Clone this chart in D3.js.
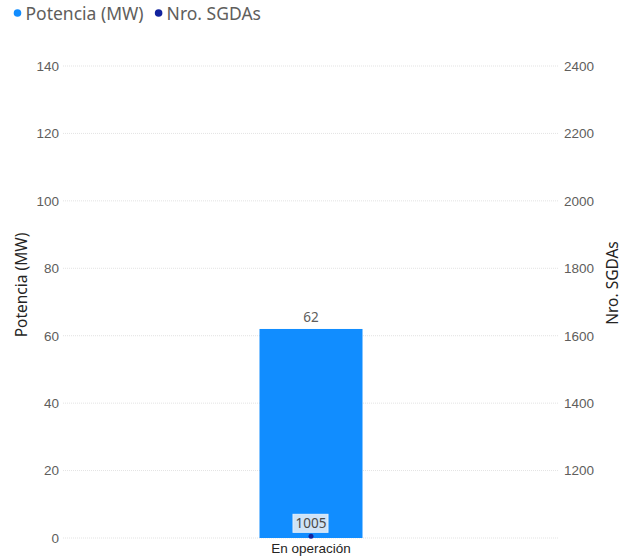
<!DOCTYPE html>
<html>
<head>
<meta charset="utf-8">
<script src="https://cdn.jsdelivr.net/npm/d3@7"></script>
<style>
  body { margin: 0; background: #fff; }
  svg { font-family: "Segoe UI", "Noto Sans", "Open Sans", sans-serif; }
</style>
</head>
<body>
<div id="chart"></div>
<script>
  'use strict'
  // data
  var categories = ["En operación"];
  var potencia = [62];        // MW, left axis
  var sgdas = [1005];         // count, right axis
  var leftTicks = [0, 20, 40, 60, 80, 100, 120, 140];
  var rightTicks = [1200, 1400, 1600, 1800, 2000, 2200, 2400];

  var W = 625, H = 559;
  var margin = {top: 66, right: 66, bottom: 21, left: 63};
  var width = W - margin.left - margin.right,
      height = H - margin.top - margin.bottom;

  var svg = d3.select("#chart").append("svg")
              .attr("width", W)
              .attr("height", H);

  var g = svg.append("g")
             .attr("transform", "translate(" + margin.left + "," + margin.top + ")");

  var x = d3.scaleBand().domain(categories).range([0, width]).paddingInner(0.2).paddingOuter(1.526);
  var yL = d3.scaleLinear().domain([0, 140]).range([height, 0]);
  var yR = d3.scaleLinear().domain([1000, 2400]).range([height, 0]);

  // gridlines
  g.selectAll(".grid")
   .data(leftTicks)
   .enter().append("line")
   .attr("class", "grid")
   .attr("x1", 0).attr("x2", width)
   .attr("y1", function(d){ return yL(d); })
   .attr("y2", function(d){ return yL(d); })
   .attr("stroke", "#e3e3e3")
   .attr("stroke-width", 1)
   .attr("stroke-dasharray", "1,1");

  // left axis
  var axL = g.append("g")
             .call(d3.axisLeft(yL).tickValues(leftTicks).tickSize(0).tickPadding(4));
  axL.select(".domain").remove();
  axL.selectAll("text").attr("fill", "#605E5C").style("font-size", "13.5px");

  // right axis
  var axR = g.append("g")
             .attr("transform", "translate(" + width + ",0)")
             .call(d3.axisRight(yR).tickValues(rightTicks).tickFormat(d3.format("d")).tickSize(0).tickPadding(5));
  axR.select(".domain").remove();
  axR.selectAll("text").attr("fill", "#605E5C").style("font-size", "13.5px");

  // x axis
  var axX = g.append("g")
             .attr("transform", "translate(0," + height + ")")
             .call(d3.axisBottom(x).tickSize(0).tickPadding(5));
  axX.select(".domain").remove();
  axX.selectAll("text").attr("fill", "#252423").style("font-size", "13.5px");

  // bars
  g.selectAll(".bar")
   .data(categories)
   .enter().append("rect")
   .attr("class", "bar")
   .attr("x", function(d){ return x(d); })
   .attr("width", x.bandwidth())
   .attr("y", function(d, i){ return yL(potencia[i]); })
   .attr("height", function(d, i){ return height - yL(potencia[i]); })
   .attr("fill", "#118DFF");

  g.selectAll(".barlabel")
   .data(categories)
   .enter().append("text")
   .attr("x", function(d){ return x(d) + x.bandwidth()/2; })
   .attr("y", function(d, i){ return yL(potencia[i]) - 7; })
   .attr("text-anchor", "middle")
   .attr("fill", "#605E5C")
   .style("font-size", "13.5px")
   .text(function(d, i){ return potencia[i]; });

  // line series (single point)
  var pts = categories.map(function(c, i){
    return {cx: x(c) + x.bandwidth()/2, cy: yR(sgdas[i]), v: sgdas[i]};
  });

  var lbl = g.selectAll(".ptlabel")
             .data(pts)
             .enter().append("g")
             .attr("transform", function(d){ return "translate(" + d.cx + "," + (d.cy - 13) + ")"; });
  lbl.append("rect")
     .attr("x", -18).attr("y", -9)
     .attr("width", 35).attr("height", 18)
     .attr("fill", "#cfe3f7")
     .attr("stroke", "#e4eef9")
     .attr("stroke-width", 1);
  lbl.append("text")
     .attr("text-anchor", "middle")
     .attr("dy", "0.35em")
     .attr("fill", "#494949")
     .style("font-size", "13.5px")
     .text(function(d){ return d.v; });

  g.selectAll(".pt")
   .data(pts)
   .enter().append("circle")
   .attr("cx", function(d){ return d.cx; })
   .attr("cy", function(d){ return d.cy; })
   .attr("r", 2.5)
   .attr("fill", "#12239E");

  // axis titles
  svg.append("text")
     .attr("transform", "translate(27,285) rotate(-90)")
     .attr("text-anchor", "middle")
     .attr("fill", "#252423")
     .style("font-size", "15.5px")
     .text("Potencia (MW)");

  svg.append("text")
     .attr("transform", "translate(618,283) rotate(-90)")
     .attr("text-anchor", "middle")
     .attr("fill", "#252423")
     .style("font-size", "15.5px")
     .text("Nro. SGDAs");

  // legend
  var legend = [{name: "Potencia (MW)", color: "#118DFF"}, {name: "Nro. SGDAs", color: "#12239E"}];
  var lx = 17.5;
  legend.forEach(function(d){
    svg.append("circle").attr("cx", lx).attr("cy", 13).attr("r", 3.8).attr("fill", d.color);
    var t = svg.append("text")
               .attr("x", lx + 8).attr("y", 20)
               .attr("fill", "#605E5C")
               .style("font-size", "17.5px")
               .text(d.name);
    lx += t.node().getComputedTextLength() + 23;
  });
</script>
</body>
</html>
